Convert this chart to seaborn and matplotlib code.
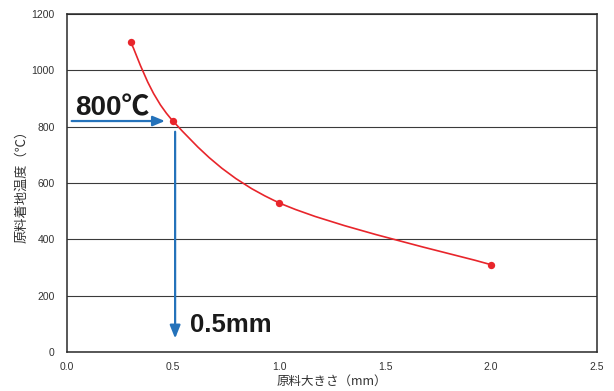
import numpy as np
import pandas as pd
import matplotlib
matplotlib.use("Agg")
import matplotlib.pyplot as plt
from matplotlib.path import Path
from matplotlib.patches import PathPatch
import seaborn as sns

# ---- data ----
size_mm = [0.3, 0.5, 1.0, 2.0]
temp_c = [1100, 820, 530, 310]
x_ticks = [0.0, 0.5, 1.0, 1.5, 2.0, 2.5]
y_ticks = [0, 200, 400, 600, 800, 1000, 1200]
x_label = "原料大きさ（mm）"
y_label = "原料着地温度（℃）"
temp_note = "800℃"
size_note = "0.5mm"

RED = "#e8252b"
BLUE = "#2472ba"

sns.set_theme(style="white")
plt.rcParams["font.family"] = ["Liberation Sans", "Noto Sans CJK JP", "DejaVu Sans"]

df = pd.DataFrame({"size": size_mm, "temp": temp_c})

fig = plt.figure(figsize=(6.14, 3.91), dpi=100)
ax = fig.add_axes([67 / 614, 39 / 391, 530 / 614, 338 / 391])

# smooth curve (Catmull-Rom style Bezier through the data points)
P = np.column_stack([size_mm, temp_c]).astype(float)
ext = np.vstack([P[0], P, P[-1]])
verts = [tuple(P[0])]
codes = [Path.MOVETO]
for i in range(len(P) - 1):
    p0, p1, p2, p3 = ext[i], ext[i + 1], ext[i + 2], ext[i + 3]
    c1 = p1 + (p2 - p0) / 6.0
    c2 = p2 - (p3 - p1) / 6.0
    verts += [tuple(c1), tuple(c2), tuple(p2)]
    codes += [Path.CURVE4] * 3
ax.add_patch(PathPatch(Path(verts, codes), facecolor="none", edgecolor=RED,
                       lw=1.2, zorder=3))

sns.scatterplot(data=df, x="size", y="temp", ax=ax, color=RED, s=28,
                edgecolor=RED, linewidth=0, zorder=4, legend=False)

ax.set_xlim(0, 2.5)
ax.set_ylim(0, 1200)
ax.set_xticks(x_ticks)
ax.set_xticklabels([f"{v:.1f}" for v in x_ticks])
ax.set_yticks(y_ticks)
ax.set_yticklabels([str(v) for v in y_ticks])

ax.yaxis.grid(True, color="#3a3a3a", lw=0.8)
ax.xaxis.grid(False)
ax.set_axisbelow(True)
for s in ax.spines.values():
    s.set_color("#2a2a2a")
    s.set_linewidth(1.1)

ax.tick_params(axis="x", direction="in", length=4, width=0.8, color="#2a2a2a",
               pad=7, labelsize=7.5, labelcolor="#333333")
ax.tick_params(axis="y", length=0, pad=9, labelsize=7.5, labelcolor="#333333")

ax.set_xlabel(x_label, fontsize=9, color="#333333",
              family=["Noto Sans CJK JP", "DejaVu Sans"])
ax.set_ylabel(y_label, fontsize=9.5, color="#333333",
              family=["Noto Sans CJK JP", "DejaVu Sans"])
ax.xaxis.set_label_coords(0.5, -0.066)
ax.yaxis.set_label_coords(-0.074, 0.5)

# annotations
ax.annotate("", xy=(0.462, 820), xytext=(0.022, 820),
            arrowprops=dict(arrowstyle="-|>,head_length=0.6,head_width=0.25",
                            color=BLUE, lw=1.6, shrinkA=0, shrinkB=0), zorder=5)
ax.annotate("", xy=(0.51, 48), xytext=(0.51, 782),
            arrowprops=dict(arrowstyle="-|>,head_length=0.65,head_width=0.26",
                            color=BLUE, lw=1.6, shrinkA=0, shrinkB=0), zorder=5)
ax.text(0.038, 841, temp_note, fontsize=20, fontweight="bold", color="#1a1a1a",
        va="baseline", ha="left",
        family=["Liberation Sans", "Noto Sans CJK JP", "DejaVu Sans"], zorder=6)
ax.text(0.58, 71, size_note, fontsize=18.5, fontweight="bold", color="#1a1a1a",
        va="baseline", ha="left",
        family=["Liberation Sans", "DejaVu Sans"], zorder=6)

fig.savefig("out.png", dpi=100)
